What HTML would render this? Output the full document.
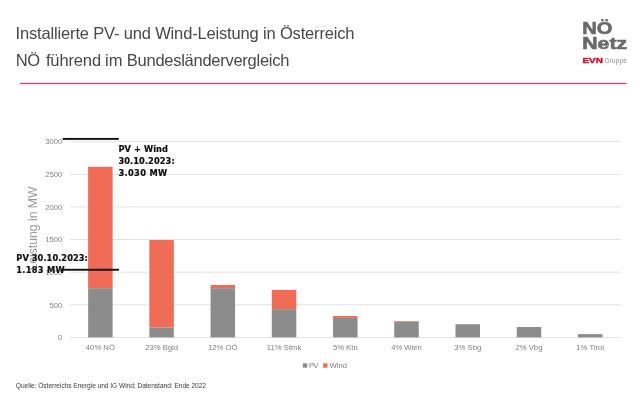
<!DOCTYPE html>
<html lang="de"><head><meta charset="utf-8"><title>Installierte PV- und Wind-Leistung in Österreich</title>
<style>
html,body{margin:0;padding:0;background:#fff;}
body{width:640px;height:408px;overflow:hidden;position:relative;font-family:"Liberation Sans",sans-serif;}
svg{position:absolute;left:0;top:0;display:block}
text{font-family:"Liberation Sans",sans-serif;}
.title{font-size:16.5px;fill:#484848;}
.ax{font-size:7.7px;fill:#808080;}
.ann{font-family:"DejaVu Sans Condensed","DejaVu Sans","Liberation Sans",sans-serif;font-weight:bold;font-size:9.2px;fill:#111;stroke:#111;stroke-width:0.2px;}
.foot{font-size:6.6px;fill:#3c3c3c;}
.ytitle{font-size:12.2px;fill:#9a9a9a;}
</style></head><body>
<svg width="640" height="408" viewBox="0 0 640 408">
<rect width="640" height="408" fill="#fff"/>
<text class="title" x="15.6" y="39" textLength="338.9">Installierte PV- und Wind-Leistung in Österreich</text>
<text class="title" y="65.5"><tspan x="15.7" textLength="24.5">NÖ</tspan> <tspan x="45.9" textLength="55.2">führend</tspan> <tspan x="105.1" textLength="17.3">im</tspan> <tspan x="126.8" textLength="162.6">Bundesländervergleich</tspan></text>
<rect x="19.7" y="82.85" width="607" height="1.3" fill="#e83c55"/>

<g>
<text transform="translate(582.3,33.9) scale(1.27,1)" style="font-weight:bold;font-size:15.9px;fill:#6a6a6a;stroke:#6a6a6a;stroke-width:0.55px">NÖ</text>
<text transform="translate(582.2,49.0) scale(1.34,1)" style="font-weight:bold;font-size:15.9px;fill:#6a6a6a;stroke:#6a6a6a;stroke-width:0.55px">Netz</text>
<text transform="translate(582.4,63.0) scale(1.29,1)" style="font-weight:bold;font-size:7.7px;fill:#e2001a;stroke:#e2001a;stroke-width:0.3px">EVN</text>
<text x="604.7" y="63.0" style="font-size:6.3px;fill:#8a8a8a" textLength="22">Gruppe</text>
</g>

<rect x="69.75" y="337.00" width="551.1" height="0.8" fill="#dcdcdc"/>
<text class="ax" x="62.4" y="340.15" text-anchor="end">0</text>
<rect x="69.75" y="304.38" width="551.1" height="0.8" fill="#dcdcdc"/>
<text class="ax" x="62.4" y="307.53" text-anchor="end">500</text>
<rect x="69.75" y="271.77" width="551.1" height="0.8" fill="#dcdcdc"/>
<text class="ax" x="62.4" y="274.92" text-anchor="end">1000</text>
<rect x="69.75" y="239.15" width="551.1" height="0.8" fill="#dcdcdc"/>
<text class="ax" x="62.4" y="242.30" text-anchor="end">1500</text>
<rect x="69.75" y="206.54" width="551.1" height="0.8" fill="#dcdcdc"/>
<text class="ax" x="62.4" y="209.69" text-anchor="end">2000</text>
<rect x="69.75" y="173.92" width="551.1" height="0.8" fill="#dcdcdc"/>
<text class="ax" x="62.4" y="177.07" text-anchor="end">2500</text>
<rect x="69.75" y="141.31" width="551.1" height="0.8" fill="#dcdcdc"/>
<text class="ax" x="62.4" y="144.46" text-anchor="end">3000</text>
<text class="ytitle" transform="translate(36.9,270.5) rotate(-90)" textLength="84">Leistung in MW</text>
<rect x="88.11" y="166.80" width="24.5" height="121.40" fill="#f06c57"/>
<rect x="88.11" y="288.20" width="24.5" height="49.20" fill="#8c8c8c"/>
<text class="ax" x="100.36" y="349.6" text-anchor="middle">40% NÖ</text>
<rect x="149.34" y="240.00" width="24.5" height="87.60" fill="#f06c57"/>
<rect x="149.34" y="327.60" width="24.5" height="9.80" fill="#8c8c8c"/>
<text class="ax" x="161.59" y="349.6" text-anchor="middle">23% Bgld</text>
<rect x="210.57" y="285.00" width="24.5" height="3.20" fill="#f06c57"/>
<rect x="210.57" y="288.20" width="24.5" height="49.20" fill="#8c8c8c"/>
<text class="ax" x="222.82" y="349.6" text-anchor="middle">12% OÖ</text>
<rect x="271.80" y="289.90" width="24.5" height="19.20" fill="#f06c57"/>
<rect x="271.80" y="309.10" width="24.5" height="28.30" fill="#8c8c8c"/>
<text class="ax" x="284.05" y="349.6" text-anchor="middle">11% Stmk</text>
<rect x="333.03" y="316.00" width="24.5" height="1.90" fill="#f06c57"/>
<rect x="333.03" y="317.90" width="24.5" height="19.50" fill="#8c8c8c"/>
<text class="ax" x="345.28" y="349.6" text-anchor="middle">5% Ktn</text>
<rect x="394.26" y="321.10" width="24.5" height="0.60" fill="#f06c57"/>
<rect x="394.26" y="321.70" width="24.5" height="15.70" fill="#8c8c8c"/>
<text class="ax" x="406.51" y="349.6" text-anchor="middle">4% Wien</text>
<rect x="455.50" y="324.20" width="24.5" height="13.20" fill="#8c8c8c"/>
<text class="ax" x="467.75" y="349.6" text-anchor="middle">3% Sbg</text>
<rect x="516.72" y="327.00" width="24.5" height="10.40" fill="#8c8c8c"/>
<text class="ax" x="528.97" y="349.6" text-anchor="middle">2% Vbg</text>
<rect x="577.95" y="334.10" width="24.5" height="3.30" fill="#8c8c8c"/>
<text class="ax" x="590.20" y="349.6" text-anchor="middle">1% Tirol</text>
<rect x="302.8" y="363.3" width="4.4" height="4.4" fill="#8c8c8c"/><text class="ax" x="309.0" y="367.8" textLength="9.4">PV</text>
<rect x="323.1" y="363.3" width="4.4" height="4.4" fill="#f06c57"/><text class="ax" x="329.4" y="367.8" textLength="17.6">Wind</text>
<rect x="62.6" y="137.95" width="56.2" height="1.9" fill="#111"/>
<rect x="61" y="268.8" width="58" height="1.9" fill="#111"/>
<text class="ann" x="118.4" y="151.5" textLength="49.6">PV + Wind</text>
<text class="ann" x="118.4" y="163.6" textLength="56.3">30.10.2023:</text>
<text class="ann" x="118.4" y="175.8" textLength="48.8">3.030 MW</text>
<text class="ann" x="16.3" y="261.0" textLength="71.6">PV 30.10.2023:</text>
<text class="ann" x="16.3" y="273.1" textLength="48.4">1.183 MW</text>
<text class="foot" x="15.8" y="387.5" textLength="190.2">Quelle: Österreichs Energie und IG Wind; Datenstand: Ende 2022</text>
</svg></body></html>
